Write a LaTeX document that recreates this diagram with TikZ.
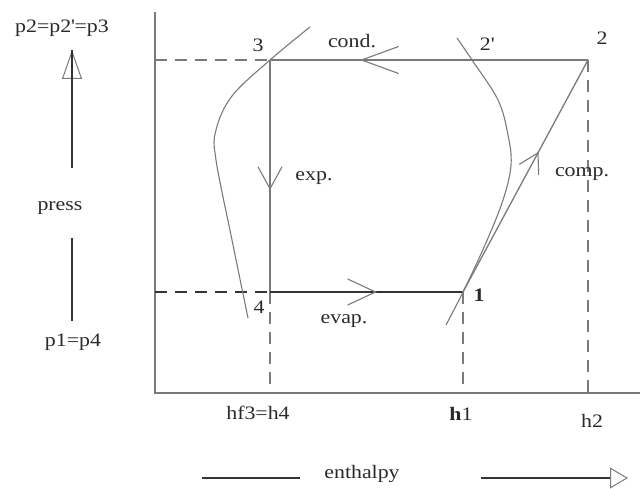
\documentclass[tikz,border=0pt]{standalone}
\usepackage{fontspec}
\setmainfont{Liberation Serif}[FakeStretch=1.15]
\usetikzlibrary{arrows.meta,decorations.markings}
\definecolor{ln}{HTML}{7A7A7A}
\definecolor{txt}{HTML}{2A2A2A}
\tikzset{
  x=1pt,y=-1pt,
  ln/.style={draw=ln,line width=1.3pt},
  dk/.style={draw=black!80,line width=1.4pt},
  dsh/.style={draw=ln,line width=1.3pt,dash pattern=on 12pt off 8pt},
  lbl/.style={text=txt,font=\fontsize{19}{22}\selectfont,inner sep=0pt},
  barb/.style n args={3}{postaction={decorate},decoration={markings,
     mark=at position #1 with {\arrow[ln,line width=1.1pt]{Straight Barb[length=#2,width=#3]}}}},
}
\begin{document}
\begin{tikzpicture}
\useasboundingbox (0,0) rectangle (640,489);
% points
\coordinate (p3) at (270,60);
\coordinate (p2) at (588,60);
\coordinate (p4) at (270,292);
\coordinate (p1) at (463,292);
\coordinate (ytop) at (155,12);
\coordinate (org) at (155,393);
\coordinate (xend) at (640,393);
\coordinate (yl3) at (155,60);
\coordinate (yl4) at (155,292);
\coordinate (h4) at (270,393);
\coordinate (h1) at (463,393);
\coordinate (h2) at (588,393);
% axes
\draw[ln] (ytop) -- (org) -- (xend);
% dashed guides
\draw[dsh] (yl3) -- (p3);
\draw[dsh] (p4) -- (h4);
\draw[dsh] (p1) -- (h1);
\draw[dsh] (p2) -- (h2);
\draw[dsh,draw=black!80] (yl4) -- (p4);
% cycle
\draw[ln,barb={0.717}{37pt}{27pt}] (p2) -- (p3);
\draw[ln,barb={0.56}{22pt}{24pt}] (p3) -- (p4);
\draw[dk,barb={0.554}{28pt}{26pt}] (p4) -- (p1);
\draw[ln,barb={0.604}{19pt}{22pt}] (p1) -- (p2);
% saturation curves
\draw[ln,line width=1.1pt] plot[smooth,tension=0.6] coordinates {(310,27) (270,60) (232,96) (216,130) (216,160) (232,240) (248,318)};
\draw[ln,line width=1.1pt] plot[smooth,tension=0.6] coordinates {(457,38) (472,60) (498,100) (508,135) (511,165) (503,200) (485,245) (463,292) (446,325)};
% point labels
\node[lbl] (l3) at (258,45) {3};
\node[lbl] (l2p) at (487,44) {2\textquotesingle};
\node[lbl] (l2) at (602,38) {2};
\node[lbl] (l4) at (259,307) {4};
\node[lbl] (l1) at (479,295) {\textbf{1}};
\node[lbl] (lcond) at (352,41) {cond.};
\node[lbl] (lexp) at (314,178) {exp.};
\node[lbl] (levap) at (344,321) {evap.};
\node[lbl] (lcomp) at (582,174) {comp.};
% axis values
\node[lbl] (lh4) at (258,413) {hf3=h4};
\node[lbl] (lh1) at (461,414) {\textbf{h}1};
\node[lbl] (lh2) at (592,421) {h2};
% pressure axis
\node[lbl] (lp23) at (62,28) {p2=p2\textquotesingle=p3};
\node[lbl] (lpress) at (60,208) {press};
\node[lbl] (lp14) at (73,342) {p1=p4};
\coordinate (pa0) at (72,168);
\coordinate (pa1) at (72,50);
\coordinate (pb0) at (72,238);
\coordinate (pb1) at (72,321);
\draw[dk,-{Triangle[open,length=29pt,width=20pt,line width=1pt,color=ln]}] (pa0) -- (pa1);
\draw[dk] (pa0) -- (pa1);
\draw[dk] (pb0) -- (pb1);
% enthalpy axis
\node[lbl] (lenth) at (362,474) {enthalpy};
\coordinate (ea0) at (202,478);
\coordinate (ea1) at (300,478);
\coordinate (eb0) at (481,478);
\coordinate (eb1) at (628,478);
\draw[dk] (ea0) -- (ea1);
\draw[dk,-{Triangle[open,length=18pt,width=21pt,line width=1pt,color=ln]}] (eb0) -- (eb1);
\end{tikzpicture}
\end{document}
